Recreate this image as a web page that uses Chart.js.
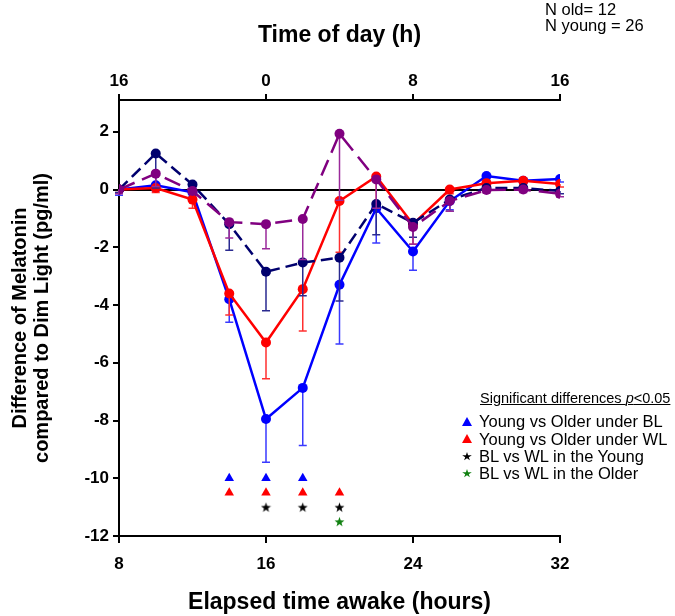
<!DOCTYPE html>
<html>
<head>
<meta charset="utf-8">
<script src="https://cdn.jsdelivr.net/npm/chart.js@4.4.0/dist/chart.umd.min.js"></script>
<style>
  body { margin: 0; background: #fff; font-family: "Liberation Sans", Arial, sans-serif; }
  #wrap { position: relative; width: 675px; height: 616px; }
  #chart { position: absolute; left: 0; top: 0; }
  .txt { position: absolute; font-size: 16.5px; color: #000; white-space: nowrap; line-height: 1; }
  .mk { position: absolute; width: 10px; height: 9px; }
  .tri { clip-path: polygon(50% 0, 100% 100%, 0 100%); }
  .star { clip-path: polygon(50% 0, 61% 35%, 98% 35%, 68% 57%, 79% 91%, 50% 70%, 21% 91%, 32% 57%, 2% 35%, 39% 35%); }
</style>
</head>
<body>
<div id="wrap">
  <canvas id="chart" width="675" height="616"></canvas>

  <div class="txt" style="left:545px; top:1px;">N old= 12</div>
  <div class="txt" style="left:545px; top:17px;">N young = 26</div>

  <div class="txt" style="left:480px; top:391px; font-size:14.5px; text-decoration:underline;">Significant differences <i>p</i>&lt;0.05</div>
  <div class="mk tri" style="left:462px; top:417px; background:#0000ff;"></div>
  <div class="txt" style="left:479px; top:413px;">Young vs Older under BL</div>
  <div class="mk tri" style="left:462px; top:434px; background:#ff0000;"></div>
  <div class="txt" style="left:479px; top:431px;">Young vs Older under WL</div>
  <div class="mk star" style="left:462px; top:452px; background:#000;"></div>
  <div class="txt" style="left:479px; top:448px;">BL vs WL in the Young</div>
  <div class="mk star" style="left:462px; top:469px; background:#108010;"></div>
  <div class="txt" style="left:479px; top:465px;">BL vs WL in the Older</div>
</div>

<script>
// ---------------- data ----------------
const hours = [8, 10, 12, 14, 16, 18, 20, 22, 24, 26, 28, 30, 32];

// young (solid lines)
const youngBL    = [0, 0.15, -0.1, -3.8, -7.95, -6.87, -3.3, -0.65, -2.15, -0.4, 0.47, 0.3, 0.36];
const youngBLerr = [0.2, 0.2, 0.15, 0.8, 1.5, 2.0, 2.05, 1.2, 0.65, 0.3, 0.15, 0.1, 0.1];
const youngWL    = [0, 0.05, -0.35, -3.6, -5.3, -3.45, -0.4, 0.45, -1.2, 0, 0.22, 0.3, 0.19];
const youngWLerr = [0.1, 0.15, 0.3, 0.75, 1.25, 1.45, 1.77, 1.1, 0.7, 0.15, 0.1, 0.1, 0.1];

// older (dashed lines)
const olderBL    = [0, 1.25, 0.17, -1.2, -2.85, -2.53, -2.36, -0.5, -1.15, -0.35, 0.05, 0.05, -0.05];
const olderBLerr = [0.1, 1.2, 0.15, 0.9, 1.35, 1.15, 1.5, 1.07, 0.5, 0.4, 0.1, 0.1, 0.1];
const olderWL    = [0, 0.55, -0.05, -1.13, -1.2, -1.02, 1.93, 0.35, -1.3, -0.4, -0.02, 0, -0.15];
const olderWLerr = [0.15, 0.45, 0.1, 0.55, 0.85, 1.4, 2.3, 1.0, 0.6, 0.35, 0.1, 0.1, 0.1];

// significance marks (hours where p<0.05) and the row they sit on
const sigYoungOlderBL = [14, 16, 18];
const sigYoungOlderWL = [14, 16, 18, 20];
const sigBLWLYoung    = [16, 18, 20];
const sigBLWLOlder    = [20];
const sigRows = [-10, -10.5, -11, -11.5];

const xTicks = [8, 16, 24, 32];
const yTicks = [-12, -10, -8, -6, -4, -2, 0, 2];

// ---------------- helpers ----------------
const pts = arr => hours.map((h, i) => ({ x: h, y: arr[i] }));
const row = (xs, yv) => xs.map(h => ({ x: h, y: yv }));

function starImg(color) {
  const c = document.createElement('canvas');
  c.width = 11; c.height = 11;
  const g = c.getContext('2d');
  g.fillStyle = color;
  g.beginPath();
  for (let k = 0; k < 10; k++) {
    const r = k % 2 ? 2.1 : 5.2;
    const a = -Math.PI / 2 + k * Math.PI / 5;
    g.lineTo(5.5 + r * Math.cos(a), 6 + r * Math.sin(a));
  }
  g.closePath();
  g.fill();
  return c;
}

// error bars drawn just before each line so they stack with it
const errBars = {
  id: 'errBars',
  beforeDatasetDraw(chart, args) {
    const ds = chart.data.datasets[args.index];
    if (!ds.err) return;
    const { ctx, scales: { x, y } } = chart;
    ctx.save();
    ctx.strokeStyle = ds.errColor;
    ctx.lineWidth = 1.5;
    ds.data.forEach((p, i) => {
      const px = x.getPixelForValue(p.x);
      const y0 = y.getPixelForValue(p.y);
      const y1 = y.getPixelForValue(p.y - ds.err[i]);
      ctx.beginPath();
      ctx.moveTo(px, y0); ctx.lineTo(px, y1);
      ctx.moveTo(px - 4, y1); ctx.lineTo(px + 4, y1);
      ctx.stroke();
    });
    ctx.restore();
  }
};

const tickFont = { family: '"Liberation Sans", Arial, sans-serif', size: 17, weight: 'bold' };
const titleFont = { family: '"Liberation Sans", Arial, sans-serif', size: 23, weight: 'bold' };

function lineSet(label, arr, err, color, errColor, dash, order) {
  return {
    label, data: pts(arr), err, errColor,
    borderColor: color, backgroundColor: color,
    borderWidth: 2.5, borderDash: dash,
    pointRadius: 5, pointHoverRadius: 5, pointBorderWidth: 0,
    tension: 0, order
  };
}

function markSet(label, xs, yv, style, color) {
  return {
    label, type: 'scatter', data: row(xs, yv), showLine: false,
    pointStyle: style, pointRadius: 5.5, backgroundColor: color, borderColor: color,
    borderWidth: 0, order: 0
  };
}

new Chart(document.getElementById('chart'), {
  type: 'line',
  data: {
    datasets: [
      lineSet('Older WL', olderWL, olderWLerr, '#800080', '#9a2a9a', [17, 8], 1),
      lineSet('Older BL', olderBL, olderBLerr, '#00006e', '#2a2a90', [12, 6], 2),
      lineSet('Young WL', youngWL, youngWLerr, '#ff0000', '#ff3030', [], 3),
      lineSet('Young BL', youngBL, youngBLerr, '#0000ff', '#3a3aff', [], 4),
      markSet('Young vs Older under BL', sigYoungOlderBL, sigRows[0], 'triangle', '#0000ff'),
      markSet('Young vs Older under WL', sigYoungOlderWL, sigRows[1], 'triangle', '#ff0000'),
      markSet('BL vs WL in the Young', sigBLWLYoung, sigRows[2], starImg('#000'), '#000'),
      markSet('BL vs WL in the Older', sigBLWLOlder, sigRows[3], starImg('#108010'), '#108010')
    ]
  },
  options: {
    responsive: false,
    animation: false,
    layout: { padding: { left: 0, right: 115, top: 0, bottom: 0 } },
    plugins: { legend: { display: false }, tooltip: { enabled: false } },
    scales: {
      x: {
        type: 'linear', position: 'bottom', min: 8, max: 32,
        afterBuildTicks: ax => { ax.ticks = xTicks.map(v => ({ value: v })); },
        ticks: { font: tickFont, color: '#000', padding: 11 },
        grid: { drawOnChartArea: false, color: '#000', tickColor: '#000', tickLength: 7, lineWidth: 2 },
        border: { color: '#000', width: 2 },
        title: { display: true, text: 'Elapsed time awake (hours)', font: titleFont, color: '#000', padding: { top: 0, bottom: 0 } },
        afterFit: s => { s.height = 80; }
      },
      x2: {
        type: 'linear', position: 'top', min: 8, max: 32,
        afterBuildTicks: ax => { ax.ticks = xTicks.map(v => ({ value: v })); },
        ticks: { font: tickFont, color: '#000', padding: 2, callback: v => (v + 8) % 24 },
        grid: { drawOnChartArea: false, color: '#000', tickColor: '#000', tickLength: 6, lineWidth: 2 },
        border: { color: '#000', width: 2 },
        title: { display: true, text: 'Time of day (h)', font: titleFont, color: '#000', padding: { top: 22, bottom: 0 } },
        afterFit: s => { s.height = 100; }
      },
      y: {
        type: 'linear', position: 'left', min: -12, max: 3.1,
        afterBuildTicks: ax => { ax.ticks = yTicks.map(v => ({ value: v })); },
        ticks: { font: tickFont, color: '#000', padding: 4 },
        grid: {
          color: c => (c.tick && c.tick.value === 0 ? '#000' : 'rgba(0,0,0,0)'),
          tickColor: '#000', tickLength: 6, lineWidth: 2
        },
        border: { color: '#000', width: 2 },
        title: {
          display: true, text: ['Difference of Melatonin', 'compared to Dim Light (pg/ml)'],
          font: { family: '"Liberation Sans", Arial, sans-serif', size: 20, weight: 'bold', lineHeight: 1.1 },
          color: '#000', padding: { top: 9, bottom: 0 }
        },
        afterFit: s => { s.width = 119; }
      }
    }
  },
  plugins: [errBars]
});
</script>
</body>
</html>
